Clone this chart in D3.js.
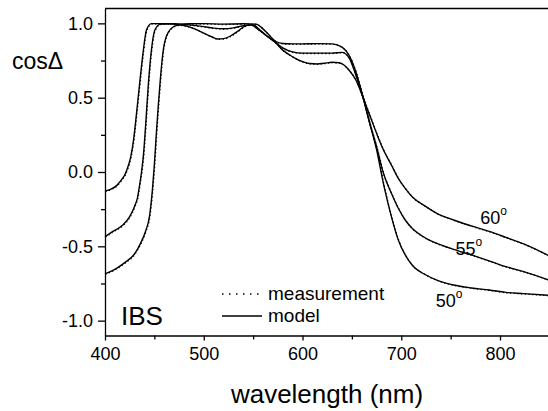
<!DOCTYPE html>
<html>
<head>
<meta charset="utf-8">
<script src="https://cdn.jsdelivr.net/npm/d3@7"></script>
<style>
  body { margin: 0; background: #fff; }
  svg { display: block; }
  text { font-family: "Liberation Sans", Arial, sans-serif; fill: #000; }
</style>
</head>
<body>
<div id="chart"></div>
<script>
// wavelength (nm) and cos(Delta) per angle of incidence
const wl50 = [400,410,420,430,436,441,445,448,450,452,454,456,459,464,472,485,500,520,540,553,558,565,573,580,590,600,615,630,640,647,654,661,668,675,682,690,697,704,711,725,736,753,771,789,806,824,850];
const cos50 = [-0.685,-0.655,-0.61,-0.55,-0.48,-0.40,-0.30,-0.12,0.05,0.26,0.45,0.62,0.82,0.94,0.985,0.997,0.998,0.995,0.997,0.995,0.975,0.93,0.878,0.865,0.862,0.862,0.864,0.862,0.84,0.787,0.675,0.51,0.33,0.15,-0.08,-0.30,-0.457,-0.558,-0.626,-0.693,-0.727,-0.76,-0.78,-0.794,-0.81,-0.818,-0.83];

const wl55 = [400,408,418,425,430,433,435,437,439,441,444,447,450.5,456,470,485,500,510,520,530,540,548,555,563,572,580,590,600,615,630,640,647,654,661,668,675,682,690,697,704,711,725,736,753,771,789,806,824,850];
const cos55 = [-0.435,-0.40,-0.357,-0.30,-0.23,-0.17,-0.09,0.0,0.12,0.3,0.6,0.82,0.955,0.995,0.998,0.99,0.978,0.968,0.964,0.97,0.985,0.99,0.96,0.92,0.875,0.835,0.808,0.80,0.80,0.80,0.805,0.77,0.652,0.507,0.33,0.17,-0.01,-0.143,-0.244,-0.323,-0.379,-0.446,-0.48,-0.52,-0.558,-0.598,-0.637,-0.67,-0.728];

const wl60 = [400,406,412,417,420,423,426,429,432,435,438.5,442,447,460,475,486,492,500,508,514,520,527,535,543,550,556,563,572,580,590,600,607,615,622,630,637,642,647,654,661,668,675,682,690,697,704,711,725,736,753,771,789,806,824,850];
const cos60 = [-0.128,-0.115,-0.09,-0.05,-0.02,0.03,0.10,0.22,0.40,0.59,0.80,0.955,0.998,0.998,0.99,0.975,0.96,0.935,0.91,0.895,0.897,0.915,0.95,0.985,0.99,0.96,0.92,0.875,0.82,0.775,0.742,0.73,0.727,0.732,0.738,0.735,0.72,0.686,0.619,0.507,0.383,0.26,0.148,0.047,-0.043,-0.11,-0.166,-0.233,-0.278,-0.323,-0.363,-0.40,-0.44,-0.484,-0.565];

const xMajor = [400,500,600,700,800];
const xMinor = [450,550,650,750,850];
const yMajor = [-1.0,-0.5,0.0,0.5,1.0];
const yMinor = [-0.75,-0.25,0.25,0.75];

const angles = [
  { name: '50', wl: wl50, cos: cos50, lx: 735, ly: -0.91 },
  { name: '55', wl: wl55, cos: cos55, lx: 755, ly: -0.56 },
  { name: '60', wl: wl60, cos: cos60, lx: 780, ly: -0.352 }
];

const width = 548, height = 411;
const mLeft = 105, mRight = 549.4, mTop = 8.5, mBottom = 335.5;

const x = d3.scaleLinear().domain([400, 850]).range([mLeft, mRight]);
const y = d3.scaleLinear().domain([-1.1, 1.1]).range([mBottom, mTop]);

const svg = d3.select('#chart').append('svg')
  .attr('width', width)
  .attr('height', height);

// frame (top and right)
svg.append('path')
  .attr('d', `M${mLeft},${mTop}H${mRight}V${mBottom}`)
  .attr('fill', 'none')
  .attr('stroke', '#000')
  .attr('stroke-width', 1.3);

const line = d3.line()
  .x(d => x(d[0]))
  .y(d => y(d[1]))
  .curve(d3.curveMonotoneX);

const curves = svg.append('g');
angles.forEach(a => {
  const pts = a.wl.map((w, i) => [w, a.cos[i]]);
  // measurement (dotted) and model (solid) lie on top of each other
  curves.append('path')
    .attr('d', line(pts))
    .attr('fill', 'none')
    .attr('stroke', '#000')
    .attr('stroke-width', 1.3)
    .attr('stroke-dasharray', '1.2,2.5')
    .attr('transform', 'translate(0.4,0.4)');
  curves.append('path')
    .attr('d', line(pts))
    .attr('fill', 'none')
    .attr('stroke', '#000')
    .attr('stroke-width', 1.4);

  const t = svg.append('text')
    .attr('x', x(a.lx))
    .attr('y', y(a.ly))
    .style('font-size', '18px');
  t.append('tspan').text(a.name);
  t.append('tspan').attr('dy', -9).style('font-size', '12px').text('o');
});

// axes
const fmt = d => d.toFixed(1);

svg.append('g')
  .attr('transform', `translate(${mLeft},0)`)
  .call(d3.axisLeft(y).tickValues(yMajor).tickFormat(fmt).tickSize(7).tickPadding(5).tickSizeOuter(0));
svg.append('g')
  .attr('transform', `translate(${mLeft},0)`)
  .call(d3.axisLeft(y).tickValues(yMinor).tickFormat('').tickSize(4).tickSizeOuter(0))
  .select('.domain').remove();

svg.append('g')
  .attr('transform', `translate(0,${mBottom})`)
  .call(d3.axisBottom(x).tickValues(xMajor).tickFormat(d3.format('d')).tickSize(5).tickPadding(7).tickSizeOuter(0));
svg.append('g')
  .attr('transform', `translate(0,${mBottom})`)
  .call(d3.axisBottom(x).tickValues(xMinor).tickFormat('').tickSize(4).tickSizeOuter(0))
  .select('.domain').remove();

svg.selectAll('.domain, .tick line').attr('stroke', '#000').attr('stroke-width', 1.3);
svg.selectAll('.tick text')
  .style('font-size', '18px')
  .style('font-family', '"Liberation Sans", Arial, sans-serif')
  .attr('fill', '#000');

// titles
svg.append('text')
  .attr('x', 12).attr('y', 69)
  .style('font-size', '23px')
  .text('cosΔ');

svg.append('text')
  .attr('x', 327).attr('y', 403)
  .attr('text-anchor', 'middle')
  .style('font-size', '26px')
  .text('wavelength (nm)');

svg.append('text')
  .attr('x', 121).attr('y', 325)
  .style('font-size', '26px')
  .text('IBS');

// legend
const lg = svg.append('g');
lg.append('line')
  .attr('x1', 222).attr('x2', 260).attr('y1', 294).attr('y2', 294)
  .attr('stroke', '#000').attr('stroke-width', 1.5)
  .attr('stroke-dasharray', '1.5,5.5');
lg.append('text')
  .attr('x', 268).attr('y', 300)
  .style('font-size', '19px')
  .text('measurement');
lg.append('line')
  .attr('x1', 222).attr('x2', 262).attr('y1', 316).attr('y2', 316)
  .attr('stroke', '#000').attr('stroke-width', 1.5);
lg.append('text')
  .attr('x', 268).attr('y', 322)
  .style('font-size', '19px')
  .text('model');
</script>
</body>
</html>
